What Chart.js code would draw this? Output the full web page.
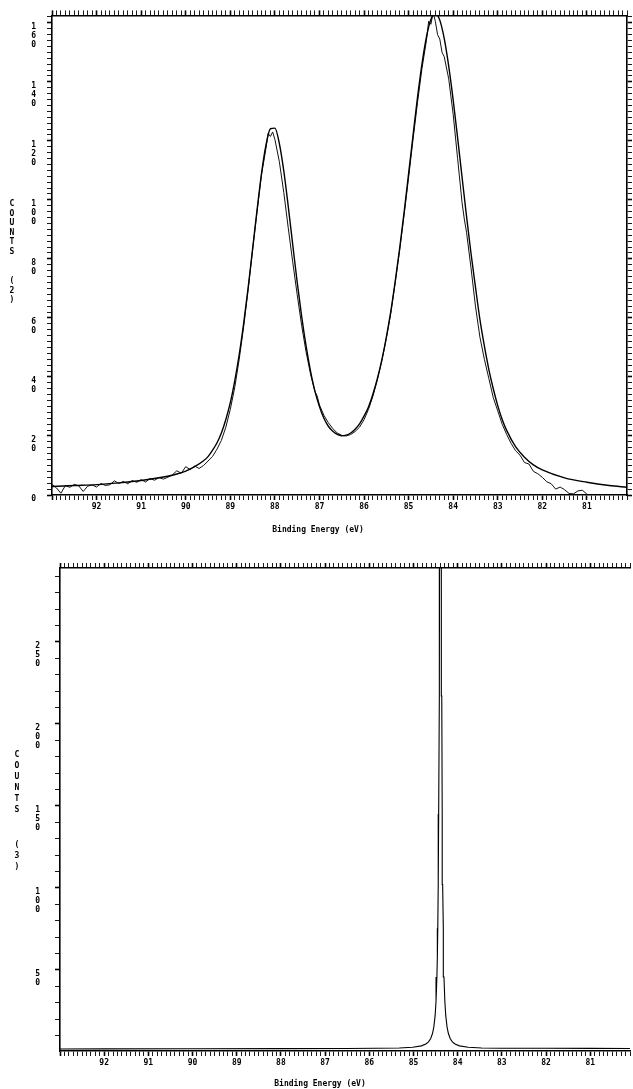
<!DOCTYPE html>
<html>
<head>
<meta charset="utf-8">
<script src="https://cdn.jsdelivr.net/npm/chart.js@4.4.1/dist/chart.umd.min.js"></script>
<style>
  html, body { margin: 0; padding: 0; background: #fff; }
  body { width: 633px; height: 1089px; position: relative; overflow: hidden; }
  .panel { position: absolute; left: 0; }
  canvas { display: block; }
</style>
</head>
<body>
<div class="panel" style="top:0px"><canvas id="topChart" width="633" height="545"></canvas></div>
<div class="panel" style="top:545px"><canvas id="bottomChart" width="633" height="544"></canvas></div>
<script>
// ---------- DATA ----------
const xTickLabels = [92, 91, 90, 89, 88, 87, 86, 85, 84, 83, 82, 81];
const topYLabels = [0, 20, 40, 60, 80, 100, 120, 140, 160];
const bottomYLabels = [50, 100, 150, 200, 250];
const yTitleText = "COUNTS";
const topYUnit = "(2)";
const bottomYUnit = "(3)";
const xTitleText = "Binding Energy (eV)";

// top panel: fitted envelope
const fitEnergy = [80.1, 80.5, 81.0, 81.5, 82.0, 82.2, 82.4, 82.6, 82.8, 82.9,
  83.0, 83.1, 83.2, 83.3, 83.4, 83.5, 83.6, 83.7, 83.8, 83.9,
  84.0, 84.1, 84.2, 84.3, 84.4, 84.5, 84.6, 84.7, 84.8, 84.9,
  85.0, 85.1, 85.2, 85.3, 85.4, 85.5, 85.6, 85.7, 85.8, 85.9,
  86.0, 86.1, 86.2, 86.3, 86.4, 86.5, 86.6, 86.7, 86.8, 86.9,
  87.0, 87.1, 87.2, 87.3, 87.4, 87.5, 87.6, 87.7, 87.8, 87.9,
  88.0, 88.1, 88.2, 88.3, 88.4, 88.5, 88.6, 88.7, 88.8, 88.9,
  89.0, 89.1, 89.2, 89.3, 89.4, 89.5, 89.6, 89.8, 90.0, 90.2,
  90.5, 91.0, 91.5, 92.0, 92.5, 93.0];
const fitCounts = [2.6, 3.2, 4.3, 5.8, 8.5, 10.2, 12.8, 16.4, 21.9, 25.6,
  30.3, 36.0, 42.6, 50.5, 59.5, 70.5, 81.9, 94.4, 107.6, 121.0,
  133.9, 145.3, 154.6, 160.9, 163.1, 161.1, 155.1, 146.0, 134.7, 121.9,
  108.9, 95.9, 83.6, 72.4, 62.1, 53.4, 45.8, 39.5, 34.2, 29.8,
  26.7, 24.1, 22.3, 21.0, 20.3, 20.1, 20.5, 21.6, 23.3, 26.0,
  30.0, 35.1, 42.0, 50.5, 60.6, 72.2, 84.9, 97.8, 109.8, 119.1,
  124.3, 124.1, 118.5, 108.9, 96.5, 83.3, 70.2, 58.2, 47.6, 38.7,
  31.3, 25.6, 21.0, 17.6, 15.1, 13.0, 11.6, 9.6, 8.1, 7.1,
  6.1, 4.9, 4.1, 3.5, 3.2, 2.9];

// top panel: measured spectrum
const dataEnergy = [81.0, 81.1, 81.2, 81.3, 81.4, 81.5, 81.6, 81.7, 81.8, 81.9,
  82.0, 82.1, 82.2, 82.3, 82.4, 82.5, 82.6, 82.7, 82.8, 82.9,
  83.0, 83.1, 83.2, 83.3, 83.4, 83.5, 83.6, 83.7, 83.75, 83.8, 83.9,
  84.0, 84.1, 84.2, 84.25, 84.3, 84.35, 84.4, 84.45, 84.5, 84.55, 84.6, 84.7, 84.8, 84.9,
  85.0, 85.1, 85.2, 85.3, 85.4, 85.5, 85.6, 85.7, 85.8, 85.9,
  86.0, 86.1, 86.2, 86.3, 86.4, 86.5, 86.6, 86.7, 86.8, 86.9,
  87.0, 87.05, 87.1, 87.2, 87.3, 87.4, 87.5, 87.6, 87.7, 87.8, 87.9,
  88.0, 88.05, 88.1, 88.15, 88.2, 88.3, 88.4, 88.5, 88.6, 88.7, 88.8, 88.9,
  89.0, 89.1, 89.2, 89.3, 89.4, 89.5, 89.6, 89.7, 89.8, 89.9,
  90.0, 90.1, 90.2, 90.3, 90.4, 90.5, 90.6, 90.7, 90.8, 90.9,
  91.0, 91.1, 91.2, 91.3, 91.4, 91.5, 91.6, 91.7, 91.8, 91.9,
  92.0, 92.1, 92.2, 92.3, 92.4, 92.5, 92.6, 92.7, 92.8, 92.9, 93.0];
const dataCounts = [0.3, 1.6, 1.4, 0.4, 0.5, 1.8, 2.7, 2.0, 3.8, 4.5,
  6.0, 7.2, 8.0, 10.5, 11.0, 13.5, 15.0, 17.5, 20.5, 24.0,
  28.5, 33.0, 39.5, 46.0, 53.5, 64.0, 77.0, 89.0, 93.5, 99.0, 114.0,
  129.0, 141.0, 148.5, 150.0, 154.5, 156.0, 160.5, 163.5, 159.5, 160.5, 154.0, 144.5, 133.0, 120.5,
  107.5, 95.0, 83.0, 72.0, 61.5, 53.0, 45.5, 39.0, 33.5, 29.0,
  25.5, 23.0, 21.5, 20.5, 20.0, 20.2, 21.0, 22.5, 24.5, 27.0,
  30.5, 33.5, 35.0, 41.0, 48.5, 57.5, 68.0, 79.0, 90.5, 102.5, 113.0,
  120.5, 123.0, 121.5, 122.5, 117.5, 108.5, 96.0, 83.0, 69.5, 57.0, 46.0, 36.5,
  29.0, 23.0, 18.5, 15.5, 13.0, 11.5, 10.0, 9.0, 9.8, 8.6,
  9.6, 7.4, 8.2, 6.8, 6.0, 5.4, 5.9, 5.0, 5.6, 4.4,
  5.2, 4.3, 4.9, 3.8, 4.6, 3.9, 4.8, 3.5, 3.2, 3.9,
  2.7, 3.4, 3.0, 1.2, 3.1, 3.6, 2.6, 3.2, 0.6, 2.4, 3.6];

// bottom panel: narrow line
const energyB = [80.1, 81.0, 82.0, 83.0, 83.46, 83.76, 83.96, 84.06, 84.12, 84.17,
  84.21, 84.24, 84.27, 84.29, 84.31, 84.32, 84.33, 84.34, 84.35, 84.36,
  84.37, 84.38, 84.39, 84.40, 84.41, 84.42, 84.43, 84.44, 84.45, 84.46,
  84.47, 84.49, 84.51, 84.54, 84.57, 84.61, 84.66, 84.72, 84.82, 85.02,
  85.32, 85.86, 86.5, 88.0, 90.0, 92.0, 93.0];
const countsB = [2.05, 2.1, 2.15, 2.15, 2.35, 2.76, 3.63, 4.75, 6.1, 8.15,
  11.15, 15.1, 22.2, 30.7, 45.6, 57.7, 75.4, 102.0, 145.0, 217.0,
  336.0, 502.0, 602.0, 502.0, 336.0, 217.0, 145.0, 102.0, 75.4, 57.7,
  45.6, 30.7, 22.2, 15.1, 11.15, 8.15, 6.1, 4.75, 3.63, 2.76,
  2.35, 2.15, 2.05, 1.95, 1.85, 1.8, 1.75];

// ---------- helpers ----------
const LABEL_FONT = { family: "'DejaVu Sans Mono', monospace", size: 8, weight: 'bold', lineHeight: 1.1 };
const isWhole = v => Math.abs(v - Math.round(v)) < 1e-6;
const toPoints = (xs, ys) => xs.map((x, i) => ({ x: x, y: ys[i] }));

function xAxis(position, height, withLabels) {
  return {
    type: 'linear', position: position, min: 80.1, max: 93.0, reverse: true, bounds: 'data',
    border: { display: true, color: '#000', width: 1.6 },
    grid: {
      drawOnChartArea: false, drawTicks: true, tickLength: 5, color: '#000',
      tickWidth: c => (c.tick && isWhole(c.tick.value)) ? 1.6 : 0.9
    },
    ticks: {
      display: withLabels, stepSize: 0.1, autoSkip: false, includeBounds: false,
      maxRotation: 0, minRotation: 0, padding: 3, color: '#000', font: LABEL_FONT,
      callback: v => {
        if (!isWhole(v)) return '';
        const r = Math.round(v);
        return xTickLabels.includes(r) ? String(r) : '';
      }
    },
    afterFit: s => { s.height = height; }
  };
}

function yAxis(position, width, min, max, step, labels, withLabels, pad) {
  return {
    type: 'linear', position: position, min: min, max: max, bounds: 'data',
    border: { display: true, color: '#000', width: 1.6 },
    grid: {
      drawOnChartArea: false, drawTicks: true, tickLength: 5, color: '#000',
      tickWidth: c => (c.tick && isWhole(c.tick.value) && labels.includes(Math.round(c.tick.value))) ? 1.6 : 0.9
    },
    ticks: {
      display: withLabels, stepSize: step, autoSkip: false, includeBounds: false,
      crossAlign: 'center', padding: pad, color: '#000', font: LABEL_FONT,
      callback: v => {
        const r = Math.round(v);
        if (!isWhole(v) || !labels.includes(r)) return '';
        const chars = String(r).split('');
        return chars.map(() => '').concat(chars);
      }
    },
    afterBuildTicks: s => {
      const t = [];
      for (let v = Math.ceil(min / step) * step; v <= max + 1e-9; v += step) t.push({ value: Math.round(v * 1000) / 1000 });
      s.ticks = t;
    },
    afterFit: s => { s.width = width; }
  };
}

function titlePlugin(cfg) {
  return {
    id: 'stackTitles',
    afterDraw(chart) {
      const ctx = chart.ctx;
      ctx.save();
      ctx.fillStyle = '#000';
      ctx.font = "bold 8px 'DejaVu Sans Mono', monospace";
      ctx.textAlign = 'center';
      ctx.textBaseline = 'middle';
      let y = cfg.yTitleTop;
      for (const ch of yTitleText) { ctx.fillText(ch, cfg.yTitleX, y); y += cfg.yStep; }
      y = cfg.unitTop;
      for (const ch of cfg.unit) { ctx.fillText(ch, cfg.yTitleX, y); y += cfg.yStep; }
      ctx.fillText(xTitleText, cfg.xTitleX, cfg.xTitleY);
      ctx.restore();
    }
  };
}

const baseOptions = {
  responsive: false, animation: false, devicePixelRatio: 1,
  plugins: { legend: { display: false }, tooltip: { enabled: false } },
  elements: { point: { radius: 0 } }
};

// ---------- top chart ----------
new Chart(document.getElementById('topChart'), {
  type: 'line',
  data: {
    datasets: [
      { data: toPoints(fitEnergy, fitCounts), borderColor: '#000', borderWidth: 1.4,
        cubicInterpolationMode: 'monotone', pointRadius: 0, fill: false },
      { data: toPoints(dataEnergy, dataCounts), borderColor: '#111', borderWidth: 1.0,
        tension: 0, pointRadius: 0, fill: false }
    ]
  },
  options: Object.assign({}, baseOptions, {
    layout: { padding: 0 },
    scales: {
      x: xAxis('bottom', 50, true),
      x2: xAxis('top', 15, false),
      y: yAxis('left', 52, 0, 162.5, 2, topYLabels, true, 11),
      y2: yAxis('right', 6, 0, 162.5, 2, topYLabels, false, 0)
    }
  }),
  plugins: [titlePlugin({ yTitleX: 12, yTitleTop: 204, yStep: 9.5, unit: topYUnit, unitTop: 281, xTitleX: 318, xTitleY: 530 })]
});

// ---------- bottom chart ----------
new Chart(document.getElementById('bottomChart'), {
  type: 'line',
  data: {
    datasets: [
      { data: toPoints(energyB, countsB), borderColor: '#000', borderWidth: 1.1,
        tension: 0, pointRadius: 0, fill: false }
    ]
  },
  options: Object.assign({}, baseOptions, {
    layout: { padding: { right: 1 } },
    scales: {
      x: xAxis('bottom', 38, true),
      x2: xAxis('top', 23, false),
      y: yAxis('left', 60, 0.5, 295, 10, bottomYLabels, true, 15)
    }
  }),
  plugins: [titlePlugin({ yTitleX: 17, yTitleTop: 210, yStep: 11, unit: bottomYUnit, unitTop: 300, xTitleX: 320, xTitleY: 539 })]
});
</script>
</body>
</html>
